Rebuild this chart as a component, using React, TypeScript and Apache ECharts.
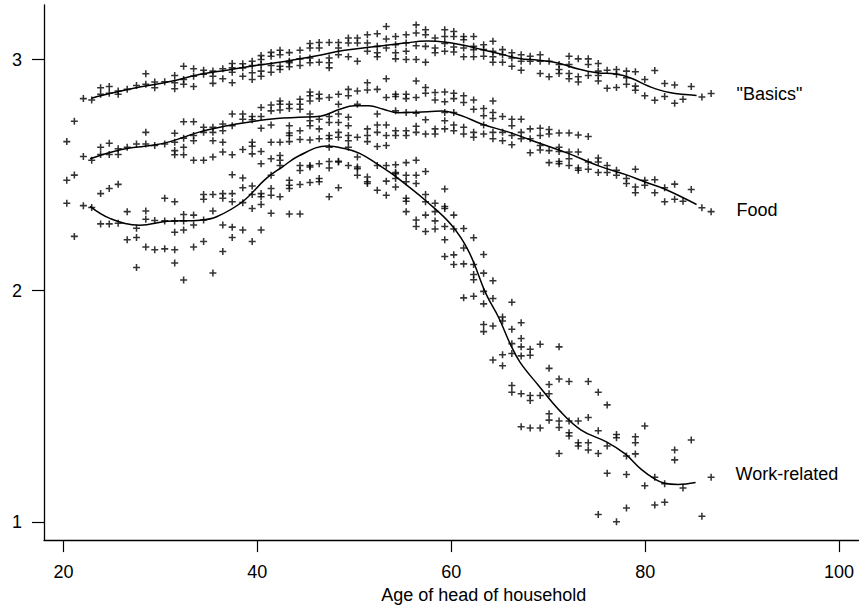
import React, { useEffect, useRef } from "react";
import * as echarts from "echarts";

// ---------- DATA ----------
const xTicks = [20, 40, 60, 80, 100];
const yTicks = [1, 2, 3];
const seriesNames = ['"Basics"', "Food", "Work-related"];
const xAxisTitle = "Age of head of household";

// rows: [age, value, value, ...]
const basicsRows: number[][] = [
  [22.06, 2.831], [22.92, 2.825], [23.84, 2.878, 2.85], [24.73, 2.883, 2.854],
  [25.65, 2.864, 2.85], [26.58, 2.871], [27.54, 2.888], [28.5, 2.939, 2.893],
  [29.42, 2.903, 2.878], [30.45, 2.904], [31.48, 2.931, 2.9, 2.874],
  [32.4, 2.971, 2.914, 2.893], [33.43, 2.96, 2.928, 2.883], [34.46, 2.954, 2.936],
  [35.42, 2.95, 2.928, 2.897], [36.44, 2.96, 2.917], [37.41, 2.983, 2.964, 2.945, 2.9],
  [38.5, 2.982, 2.964, 2.928], [39.47, 2.993, 2.974, 2.943, 2.914],
  [40.39, 3.017, 3.0, 2.979, 2.95, 2.928], [41.42, 3.031, 3.014, 2.974, 2.945],
  [42.34, 3.04, 3.021, 2.971, 2.957], [43.3, 3.03, 2.993, 2.986, 2.969],
  [44.4, 3.04, 3.003, 2.974], [45.43, 3.069, 3.05, 3.007, 2.986],
  [46.38, 3.074, 3.05, 2.988], [47.41, 3.074, 3.007, 2.986, 2.964],
  [48.37, 3.074, 3.05, 3.021], [49.39, 3.093, 3.072, 3.012], [50.32, 3.093, 3.072, 2.993],
  [51.35, 3.107, 3.072, 3.036], [52.37, 3.112, 3.057, 3.029, 3.012],
  [53.3, 3.143, 3.089, 3.05], [54.26, 3.1, 3.064, 3.029, 3.003],
  [55.35, 3.107, 3.072, 3.036, 3.0], [56.38, 3.15, 3.115, 3.06, 3.0],
  [57.35, 3.129, 3.107, 3.057, 2.988], [58.33, 3.093, 3.05, 3.029],
  [59.33, 3.129, 3.1, 3.069, 3.036], [60.26, 3.121, 3.1, 3.054, 3.033],
  [61.28, 3.1, 3.086, 3.05, 3.012], [62.31, 3.1, 3.057, 3.043, 3.012],
  [63.34, 3.064, 3.043, 3.014], [64.3, 3.079, 3.036, 3.012, 2.988],
  [65.29, 3.043, 3.021, 2.988], [66.25, 3.029, 3.007, 2.971],
  [67.21, 3.021, 2.993, 2.954], [68.14, 3.014, 2.993], [69.17, 3.021, 2.993, 2.94],
  [70.09, 2.993, 2.926], [71.12, 2.979, 2.957, 2.94], [72.15, 3.014, 2.979, 2.94, 2.917],
  [73.1, 3.003, 2.926, 2.903], [74.13, 3.003, 2.979, 2.931],
  [75.16, 2.983, 2.95, 2.931, 2.907], [76.08, 2.954, 2.876], [77.04, 2.957, 2.936, 2.879],
  [78.07, 2.95, 2.921, 2.893], [78.99, 2.947, 2.885, 2.867], [79.96, 2.914, 2.843],
  [80.99, 2.953, 2.824], [82.01, 2.896, 2.84], [83.04, 2.89, 2.811], [83.9, 2.828],
  [84.75, 2.883], [85.85, 2.838], [86.8, 2.853],
];

const foodRows: number[][] = [
  [20.35, 2.645], [21.13, 2.733], [22.06, 2.581], [22.92, 2.564], [23.84, 2.621, 2.589],
  [24.73, 2.638, 2.589], [25.65, 2.614, 2.589], [26.58, 2.621], [27.54, 2.635],
  [28.5, 2.685, 2.635], [29.42, 2.628], [30.45, 2.635], [31.48, 2.681, 2.642, 2.606, 2.588],
  [32.4, 2.731, 2.66, 2.621, 2.588], [33.43, 2.731, 2.671, 2.649, 2.564],
  [34.46, 2.707, 2.685, 2.564], [35.42, 2.707, 2.685, 2.649, 2.578],
  [36.44, 2.721, 2.692, 2.642, 2.6], [37.41, 2.764, 2.714, 2.588],
  [38.5, 2.764, 2.742, 2.611], [39.47, 2.754, 2.74, 2.642, 2.625, 2.592],
  [40.39, 2.793, 2.754, 2.703, 2.602, 2.549], [41.42, 2.803, 2.778, 2.717, 2.642, 2.571],
  [42.34, 2.821, 2.807, 2.782, 2.642, 2.585, 2.564, 2.542],
  [43.3, 2.807, 2.788, 2.714, 2.682, 2.671, 2.645], [44.4, 2.828, 2.807, 2.785, 2.692, 2.654],
  [45.43, 2.86, 2.843, 2.821, 2.764, 2.735, 2.714, 2.652],
  [46.38, 2.85, 2.831, 2.742, 2.7, 2.657], [47.41, 2.836, 2.754, 2.728, 2.671, 2.657],
  [48.37, 2.85, 2.807, 2.764, 2.728, 2.685, 2.664],
  [49.39, 2.871, 2.843, 2.75, 2.714, 2.671, 2.649], [50.32, 2.864, 2.807, 2.664],
  [51.35, 2.9, 2.868, 2.7, 2.671, 2.645], [52.37, 2.871, 2.764, 2.717, 2.685, 2.624],
  [53.3, 2.917, 2.836, 2.717, 2.671, 2.628], [54.26, 2.85, 2.84, 2.778, 2.692, 2.671],
  [55.35, 2.85, 2.831, 2.771, 2.692, 2.671], [56.38, 2.907, 2.836, 2.768, 2.711, 2.685],
  [57.35, 2.879, 2.854, 2.74, 2.678], [58.33, 2.857, 2.825, 2.7, 2.678],
  [59.33, 2.86, 2.817, 2.771, 2.735, 2.7], [60.26, 2.854, 2.831, 2.771, 2.717, 2.692],
  [61.28, 2.843, 2.814, 2.707, 2.678], [62.31, 2.825, 2.785, 2.685, 2.664],
  [63.34, 2.788, 2.757, 2.717, 2.678], [64.3, 2.821, 2.771, 2.745, 2.685, 2.657],
  [65.29, 2.754, 2.685, 2.649], [66.25, 2.742, 2.714, 2.671, 2.631],
  [67.21, 2.742, 2.685, 2.657], [68.14, 2.7, 2.657, 2.597],
  [69.17, 2.703, 2.671, 2.628, 2.609], [70.09, 2.697, 2.678, 2.606, 2.554],
  [71.12, 2.682, 2.621, 2.602, 2.559, 2.549], [72.15, 2.682, 2.6, 2.571, 2.542],
  [73.1, 2.674, 2.6, 2.531, 2.521], [74.13, 2.667, 2.557, 2.525],
  [75.16, 2.574, 2.557, 2.511], [76.08, 2.542, 2.511], [77.04, 2.521, 2.499],
  [78.07, 2.485, 2.464], [78.99, 2.525, 2.449, 2.424], [79.96, 2.478, 2.456],
  [80.99, 2.48, 2.424], [82.01, 2.445, 2.385], [83.04, 2.461, 2.396], [83.9, 2.387],
  [84.75, 2.438], [85.85, 2.359], [86.8, 2.342],
];

const workRows: number[][] = [
  [20.35, 2.478, 2.378], [21.13, 2.5, 2.235], [22.06, 2.368], [22.92, 2.36],
  [23.84, 2.42, 2.289], [24.73, 2.442, 2.289], [25.65, 2.46, 2.292], [26.58, 2.342, 2.22],
  [27.54, 2.27, 2.23, 2.1], [28.5, 2.345, 2.309, 2.189], [29.42, 2.304, 2.177],
  [30.45, 2.4, 2.302, 2.181], [31.48, 2.385, 2.302, 2.253, 2.177, 2.12],
  [32.4, 2.33, 2.302, 2.263, 2.046], [33.43, 2.327, 2.284, 2.189],
  [34.46, 2.416, 2.396, 2.306, 2.213], [35.42, 2.416, 2.345, 2.077],
  [36.44, 2.42, 2.4, 2.284, 2.17], [37.41, 2.502, 2.42, 2.385, 2.275, 2.23],
  [38.5, 2.488, 2.445, 2.381, 2.263], [39.47, 2.453, 2.416, 2.356, 2.213],
  [40.39, 2.42, 2.406, 2.373, 2.263], [41.42, 2.499, 2.442, 2.413, 2.335], [42.34, 2.406],
  [43.3, 2.478, 2.456, 2.442, 2.332], [44.4, 2.542, 2.52, 2.459, 2.332],
  [45.43, 2.542, 2.535, 2.468], [46.38, 2.549, 2.485, 2.471],
  [47.41, 2.621, 2.559, 2.531, 2.406], [48.37, 2.56, 2.557, 2.445], [49.39, 2.621, 2.542],
  [50.32, 2.578, 2.535, 2.528, 2.499], [51.35, 2.492, 2.471, 2.464], [52.37, 2.542, 2.435],
  [53.3, 2.542, 2.474, 2.413], [54.26, 2.545, 2.511, 2.506, 2.485, 2.449],
  [55.35, 2.554, 2.499, 2.471, 2.4, 2.387, 2.342], [56.38, 2.564, 2.499, 2.464, 2.306, 2.278],
  [57.35, 2.516, 2.416, 2.385, 2.327, 2.256], [58.33, 2.378, 2.342, 2.302, 2.267],
  [59.33, 2.44, 2.364, 2.356, 2.278, 2.22, 2.148], [60.26, 2.327, 2.267, 2.155, 2.113],
  [61.28, 2.269, 2.185, 2.116, 1.969], [62.31, 2.229, 2.113, 2.07, 2.047, 1.976],
  [63.34, 2.157, 2.076, 1.997, 1.943, 1.854, 1.823], [64.3, 2.043, 1.966, 1.847, 1.7],
  [65.29, 1.886, 1.869, 1.723, 1.675], [66.25, 1.95, 1.833, 1.771, 1.728, 1.59, 1.561],
  [67.21, 1.861, 1.793, 1.757, 1.718, 1.554, 1.411], [68.14, 1.747, 1.721, 1.547, 1.525, 1.406],
  [69.17, 1.768, 1.547, 1.406], [70.09, 1.664, 1.594, 1.554, 1.468, 1.44],
  [71.12, 1.757, 1.618, 1.436, 1.408, 1.296], [72.15, 1.607, 1.436, 1.385, 1.371],
  [73.1, 1.436, 1.342, 1.328], [74.13, 1.607, 1.451, 1.342, 1.311],
  [75.16, 1.561, 1.394, 1.296, 1.032], [76.08, 1.506, 1.328, 1.21], [77.04, 1.378, 1.364, 1.0],
  [78.07, 1.285, 1.205, 1.06], [78.99, 1.368, 1.342, 1.294], [79.96, 1.415, 1.156],
  [80.99, 1.193, 1.073], [82.01, 1.165, 1.085], [83.04, 1.311, 1.268], [83.9, 1.146],
  [84.75, 1.354], [85.85, 1.024], [86.8, 1.193],
];

// smoothed curves [age, value]
const basicsCurve: number[][] = [
  [22.9, 2.833], [25, 2.855], [28, 2.882], [31, 2.905], [34, 2.935], [37, 2.955],
  [40, 2.975], [43, 2.993], [46, 3.015], [49, 3.04], [52, 3.055], [55, 3.07],
  [57.5, 3.08], [59.5, 3.075], [61, 3.064], [63, 3.045], [65, 3.025], [67, 3.005],
  [69, 2.997], [71, 2.985], [73, 2.96], [75, 2.943], [77, 2.937], [78.5, 2.92],
  [80.5, 2.882], [82.5, 2.857], [85.3, 2.845],
];
const foodCurve: number[][] = [
  [22.75, 2.571], [25, 2.6], [27, 2.618], [29, 2.628], [31, 2.645], [34, 2.686],
  [37, 2.715], [39.2, 2.73], [42, 2.745], [44.3, 2.75], [46.5, 2.755], [48.5, 2.785],
  [50, 2.8], [51.5, 2.8], [53, 2.785], [54.5, 2.77], [56.5, 2.772], [59, 2.777],
  [61, 2.758], [63.2, 2.72], [66, 2.685], [68.3, 2.65], [72, 2.595], [75.2, 2.54],
  [78, 2.502], [80, 2.47], [82, 2.44], [85.3, 2.373],
];
const workCurve: number[][] = [
  [22.75, 2.365], [24.8, 2.313], [27.9, 2.283], [30.7, 2.3], [34.1, 2.305], [35.8, 2.32],
  [38.5, 2.386], [40.9, 2.485], [42.6, 2.536], [44.3, 2.584], [47.2, 2.626], [49, 2.615],
  [50.5, 2.595], [52.3, 2.55], [53.9, 2.505], [55.6, 2.45], [57.35, 2.39], [60, 2.285],
  [61.8, 2.17], [63.6, 1.985], [64.9, 1.883], [66.1, 1.768], [67.1, 1.69], [69, 1.59],
  [71.2, 1.48], [73.4, 1.397], [76, 1.346], [77.9, 1.295], [79.6, 1.227], [81, 1.185],
  [82, 1.167], [83.4, 1.162], [85.2, 1.17],
];

// ---------- BUILD ----------
function toPoints(rows: number[][]): number[][] {
  const out: number[][] = [];
  rows.forEach((r) => {
    for (let i = 1; i < r.length; i++) out.push([r[0], r[i]]);
  });
  return out;
}

const FONT = '"Liberation Sans", Arial, Helvetica, sans-serif';
const plusPath = "path://M0,3.9H10V6.1H0Z M3.9,0H6.1V10H3.9Z";

export default function App() {
  const ref = useRef<HTMLDivElement>(null);

  useEffect(() => {
    if (!ref.current) return;
    const chart = echarts.init(ref.current, undefined, { renderer: "svg" });

    const scatter = (name: string, rows: number[][]) => ({
      name,
      type: "scatter",
      data: toPoints(rows),
      symbol: plusPath,
      symbolSize: 7,
      itemStyle: { color: "#000" },
      silent: true,
      z: 2,
    });
    const curve = (name: string, data: number[][], dy: number) => ({
      name,
      type: "line",
      data,
      smooth: 0.4,
      showSymbol: false,
      symbol: "none",
      silent: true,
      lineStyle: { color: "#000", width: 1.5 },
      z: 3,
      endLabel: {
        show: true,
        formatter: name,
        distance: 40,
        offset: [0, dy],
        color: "#000",
        fontSize: 18,
        fontFamily: FONT,
      },
    });

    chart.setOption({
      animation: false,
      backgroundColor: "#fff",
      textStyle: { fontFamily: FONT },
      grid: { left: 44, right: 1.5, top: 5, bottom: 65 },
      xAxis: {
        type: "value",
        min: 18,
        max: 102,
        name: xAxisTitle,
        nameLocation: "middle",
        nameGap: 45,
        nameTextStyle: { color: "#000", fontSize: 18, fontFamily: FONT, padding: [0, 0, 0, 65] },
        axisLine: { show: true, lineStyle: { color: "#000", width: 1.3 } },
        axisTick: { show: true, inside: false, length: 12, customValues: xTicks, lineStyle: { color: "#000", width: 1.2 } },
        axisLabel: { customValues: xTicks, color: "#000", fontSize: 18, fontFamily: FONT, margin: 23 },
        splitLine: { show: false },
      },
      yAxis: {
        type: "value",
        min: 0.921,
        max: 3.236,
        axisLine: { show: true, lineStyle: { color: "#000", width: 1.3 } },
        axisTick: { show: true, inside: false, length: 12, customValues: yTicks, lineStyle: { color: "#000", width: 1.2 } },
        axisLabel: { customValues: yTicks, color: "#000", fontSize: 18, fontFamily: FONT, margin: 22 },
        splitLine: { show: false },
      },
      series: [
        scatter(seriesNames[0], basicsRows),
        scatter(seriesNames[1], foodRows),
        scatter(seriesNames[2], workRows),
        curve(seriesNames[0], basicsCurve, -1),
        curve(seriesNames[1], foodCurve, 6),
        curve(seriesNames[2], workCurve, -9),
      ],
    });

    return () => chart.dispose();
  }, []);

  return (
    <div
      ref={ref}
      style={{ position: "fixed", left: 0, top: 0, width: 860, height: 609, background: "#fff" }}
    />
  );
}
